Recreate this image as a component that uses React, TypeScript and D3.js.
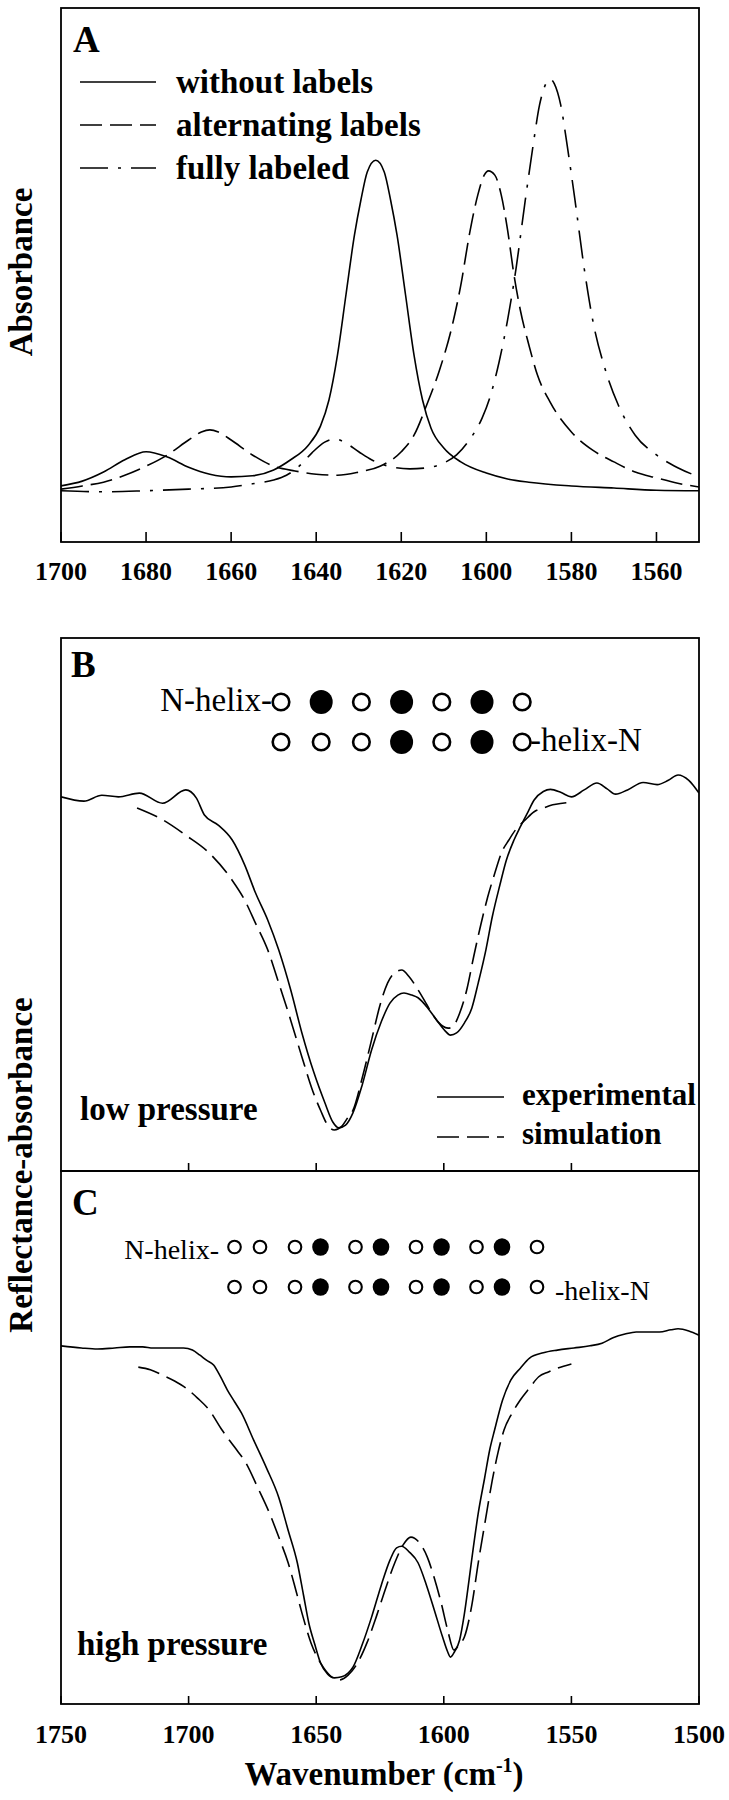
import React from 'react';
import * as d3 from 'd3';

// ---------- Panel A data (wavenumber cm-1, absorbance a.u.) ----------
const aWithout: [number, number][] = [
  [1700, 10.5], [1695, 11.4], [1690, 13.1], [1685, 15.4], [1680, 16.9], [1675, 15.9], [1670, 14.0],
  [1665, 12.7], [1660, 12.2], [1655, 12.4], [1650, 13.5], [1646, 15.4], [1642, 18.0], [1639, 21.7],
  [1637, 26.6], [1635, 35.0], [1633, 46.3], [1631, 57.5], [1629.5, 64.0], [1628, 69.3], [1626, 71.5],
  [1624, 69.3], [1622.5, 64.0], [1621, 57.5], [1619, 46.3], [1617, 35.0], [1615, 26.6], [1613, 21.3],
  [1610, 17.6], [1606, 15.0], [1600, 12.9], [1595, 11.8], [1590, 11.2], [1580, 10.5], [1570, 10.1],
  [1560, 9.7], [1550, 9.6],
];
const aAlternating: [number, number][] = [
  [1700, 9.9], [1695, 10.5], [1690, 11.2], [1685, 12.5], [1680, 14.2], [1675, 16.3], [1670, 19.1],
  [1667, 20.6], [1665, 21.0], [1663, 20.6], [1660, 19.1], [1655, 16.3], [1650, 14.2], [1645, 13.3],
  [1640, 12.7], [1635, 12.5], [1630, 13.1], [1625, 14.2], [1620, 16.9], [1617, 20.0], [1614, 25.7],
  [1611, 32.2], [1608, 40.6], [1606, 48.1], [1604, 57.5], [1602, 65.0], [1600.5, 68.7], [1599.5, 69.5],
  [1598, 68.7], [1596.5, 65.0], [1595, 58.4], [1593.5, 50.0], [1592, 43.4], [1590, 36.9], [1588, 31.3],
  [1585, 26.2], [1580, 20.6], [1575, 17.2], [1570, 15.0], [1565, 13.1], [1560, 12.0], [1555, 11.0],
  [1550, 10.3],
];
const aFully: [number, number][] = [
  [1700, 9.6], [1690, 9.4], [1680, 9.6], [1670, 9.9], [1660, 10.3], [1655, 10.9], [1650, 11.6],
  [1647, 12.5], [1644, 14.2], [1641, 16.7], [1638, 18.7], [1635.5, 19.3], [1633, 18.5], [1630, 16.9],
  [1627, 15.4], [1623, 14.2], [1618, 13.7], [1614, 13.9], [1610, 14.8], [1607, 16.3], [1604, 19.1],
  [1601, 23.2], [1599, 27.5], [1597, 33.7], [1595, 41.6], [1593, 51.3], [1591, 63.1], [1589, 74.3],
  [1587.5, 81.8], [1586, 85.8], [1585, 86.7], [1584, 85.8], [1582.5, 81.8], [1581, 74.3], [1579, 63.1],
  [1577, 51.3], [1575, 41.6], [1572, 32.2], [1569, 25.7], [1565, 20.0], [1560, 16.3], [1555, 13.9],
  [1550, 12.2],
];

// ---------- Panel B data (low pressure) ----------
const bExperimental: [number, number][] = [
  [1750, 70.2], [1741, 69.4], [1734, 70.5], [1727.5, 70.2], [1719.3, 70.9], [1710.2, 69.0], [1701.1, 71.5],
  [1697, 70.0], [1693.8, 66.8], [1688.4, 64.9], [1682.9, 62.1], [1678, 57.4], [1673.8, 52.2], [1669, 47.1],
  [1664.7, 41.5], [1660, 34.0], [1655.6, 25.9], [1651, 18.6], [1646.6, 12.8], [1643.5, 9.2], [1641.1, 8.1],
  [1638.5, 8.6], [1635.6, 10.9], [1632, 16.1], [1628.3, 22.7], [1624.5, 28.0], [1621.1, 31.5], [1618, 33.0],
  [1615.6, 33.4], [1612.5, 33.0], [1610.1, 32.5], [1606, 30.4], [1602.8, 28.3], [1599.5, 26.3], [1597.4, 25.5],
  [1595, 25.9], [1591.9, 27.8], [1589, 30.6], [1586.5, 35.3], [1583.5, 41.5], [1581, 47.7], [1578, 53.7],
  [1575.5, 58.3], [1572.5, 62.1], [1570.1, 64.5], [1567, 67.4], [1564.6, 69.6], [1561, 71.2], [1558.2, 71.6],
  [1554, 71.0], [1550, 70.2], [1545, 71.5], [1540, 72.8], [1536, 71.7], [1532.7, 70.7], [1528, 71.5],
  [1521.9, 72.9], [1516.4, 72.5], [1512, 73.3], [1508.2, 74.3], [1504, 73.3], [1500, 70.9],
];
const bSimulation: [number, number][] = [
  [1720.2, 68.1], [1710.2, 65.9], [1701.1, 63.0], [1692, 59.7], [1683, 54.6], [1678, 50.8], [1673.8, 46.5],
  [1669, 41.5], [1664.7, 35.3], [1660, 28.3], [1655.6, 21.4], [1651.5, 15.2], [1648.3, 11.4], [1645.5, 8.6],
  [1642.9, 7.7], [1640, 8.4], [1637.5, 10.1], [1635.6, 11.4], [1632, 17.4], [1628.3, 24.6], [1625, 31.1],
  [1622, 35.3], [1619, 37.3], [1616.5, 37.7], [1613.5, 36.4], [1610.1, 34.0], [1607, 31.5], [1603.7, 28.9],
  [1600.5, 27.2], [1598.3, 26.8], [1596, 27.4], [1593.8, 29.6], [1591, 34.0], [1588.3, 40.2], [1585.5, 46.2],
  [1582.8, 51.4], [1580, 55.9], [1577.4, 59.7], [1574.5, 62.1], [1571.9, 64.0], [1568, 65.9], [1564.6, 67.4],
  [1561, 68.1], [1557.3, 68.7], [1553.5, 69.0], [1550, 69.2],
];

// ---------- Panel C data (high pressure) ----------
const cExperimental: [number, number][] = [
  [1750, 67.2], [1742, 66.8], [1735.7, 66.6], [1729, 66.8], [1723, 67.0], [1718, 67.0], [1713.9, 66.8],
  [1708, 66.8], [1702, 66.8], [1698.5, 66.4], [1695.7, 65.5], [1693, 64.5], [1690.2, 63.6], [1687.5, 61.4],
  [1684.8, 58.9], [1682, 56.7], [1679.3, 54.6], [1674.5, 49.5], [1669.5, 44.3], [1664.7, 38.8], [1661, 32.6],
  [1657.4, 26.5], [1655, 20.5], [1652.9, 15.2], [1650.5, 11.1], [1648.3, 7.7], [1645.5, 5.6], [1642.9, 4.9],
  [1640, 5.1], [1637.5, 5.8], [1635.6, 6.9], [1632, 11.1], [1628.3, 16.3], [1624.5, 22.3], [1621.1, 27.0],
  [1618.5, 29.3], [1616.5, 29.6], [1613.5, 28.5], [1610.1, 26.5], [1606.8, 22.3], [1603.7, 17.6],
  [1600.5, 12.6], [1598.5, 9.8], [1597.4, 8.8], [1595.8, 9.8], [1593.8, 12.0], [1592, 16.7], [1590.1, 23.3],
  [1588.3, 29.8], [1586.5, 35.8], [1584, 42.4], [1582, 47.7], [1580.1, 51.4], [1577, 57.0], [1573.7, 60.8],
  [1570, 63.0], [1566.4, 64.9], [1561, 65.9], [1555.5, 66.4], [1549, 66.8], [1542.7, 67.2], [1538, 67.7],
  [1533.7, 68.7], [1529, 69.4], [1524.6, 69.8], [1520, 69.8], [1515.5, 69.8], [1511, 70.2], [1508.2, 70.4],
  [1504, 70.0], [1500, 69.2],
];
const cSimulation: [number, number][] = [
  [1719.7, 63.2], [1715, 62.7], [1710.2, 61.7], [1705.5, 60.6], [1701.1, 59.3], [1696.5, 57.4], [1692, 55.2],
  [1686.9, 51.4], [1682, 48.2], [1677.5, 45.2], [1673, 40.7], [1668.3, 35.8], [1664.5, 31.1], [1661, 26.5],
  [1658, 21.4], [1655.6, 17.1], [1652, 11.4], [1648.3, 7.7], [1644.5, 5.3], [1641.1, 4.5], [1637.5, 5.4],
  [1633.8, 7.7], [1630, 11.6], [1626.5, 16.3], [1623, 21.4], [1619.2, 26.5], [1616, 29.8], [1612.9, 31.3],
  [1609.5, 30.2], [1606.5, 27.6], [1603.7, 23.6], [1601, 18.9], [1598.5, 13.9], [1596, 10.1], [1594, 11.1],
  [1591.9, 12.6], [1589, 18.6], [1586.5, 26.5], [1583.7, 34.5], [1581, 42.0], [1578.7, 47.3], [1576.4, 51.4],
  [1573.2, 54.6], [1570.1, 57.0], [1566.4, 59.3], [1562.8, 61.4], [1559, 62.3], [1555.5, 63.0], [1550, 63.8],
];

// ---------- ticks, labels ----------
const ticksA = [1700, 1680, 1660, 1640, 1620, 1600, 1580, 1560];
const ticksBC = [1750, 1700, 1650, 1600, 1550, 1500];
const legendA = ['without labels', 'alternating labels', 'fully labeled'];
const legendB = ['experimental', 'simulation'];
// helix label patterns (1 = labeled / filled circle)
const helixB1 = [0, 1, 0, 1, 0, 1, 0];
const helixB2 = [0, 0, 0, 1, 0, 1, 0];
const helixC1 = [0, 0, 0, 1, 0, 1, 0, 1, 0, 1, 0];
const helixC2 = [0, 0, 0, 1, 0, 1, 0, 1, 0, 1, 0];

const FONT = 'Liberation Serif';
const L = 61, R = 699;
const PA = { top: 8, bottom: 542 };
const PB = { top: 638, bottom: 1171 };
const PC = { top: 1171, bottom: 1704 };
const DASH = '22,8';
const DASHDOT = '28,10,3,10';

export default function App() {
  const xA = d3.scaleLinear().domain([1700, 1550]).range([L, R]);
  const xBC = d3.scaleLinear().domain([1750, 1500]).range([L, R]);
  const yA = d3.scaleLinear().domain([0, 100]).range([PA.bottom, PA.top]);
  const yB = d3.scaleLinear().domain([0, 100]).range([PB.bottom, PB.top]);
  const yC = d3.scaleLinear().domain([0, 100]).range([PC.bottom, PC.top]);

  const mk = (x: d3.ScaleLinear<number, number>, y: d3.ScaleLinear<number, number>) =>
    d3.line<[number, number]>().x(d => x(d[0])).y(d => y(d[1])).curve(d3.curveMonotoneX);
  const lA = mk(xA, yA), lB = mk(xBC, yB), lC = mk(xBC, yC);

  const curve = { fill: 'none', stroke: '#000', strokeWidth: 1.6 } as const;
  const frame = { fill: 'none', stroke: '#000', strokeWidth: 1.8 } as const;

  const clip = (id: string, p: { top: number; bottom: number }) => (
    <clipPath id={id}><rect x={L} y={p.top} width={R - L} height={p.bottom - p.top} /></clipPath>
  );

  const xB1 = (i: number) => 281 + i * 40.2;
  const xC = (i: number) => 234.5 + Math.floor(i / 2) * 60.5 + (i % 2) * 25.5;
  const T = { fontFamily: FONT } as const;

  return (
    <svg width={729} height={1800} style={{ position: 'absolute', left: 0, top: 0, background: '#fff', fontFamily: FONT }}>
      <defs>
        {clip('ca', PA)}
        {clip('cb', PB)}
        {clip('cc', PC)}
      </defs>
      <rect x={0} y={0} width={729} height={1800} fill="#fff" />

      {/* ---------- Panel A ---------- */}
      <g clipPath="url(#ca)">
        <path d={lA(aWithout) || ''} {...curve} />
        <path d={lA(aAlternating) || ''} {...curve} strokeDasharray={DASH} />
        <path d={lA(aFully) || ''} {...curve} strokeDasharray={DASHDOT} />
      </g>
      <rect x={L} y={PA.top} width={R - L} height={PA.bottom - PA.top} {...frame} />
      {ticksA.map(t => (
        <g key={t}>
          <line x1={xA(t)} x2={xA(t)} y1={PA.bottom} y2={PA.bottom - 10} stroke="#000" strokeWidth={1.6} />
          <text style={T} x={xA(t)} y={580} textAnchor="middle" fontSize={26} fontWeight="bold">{t}</text>
        </g>
      ))}
      <text style={T} x={73} y={52} fontSize={37} fontWeight="bold">A</text>
      {legendA.map((s, i) => (
        <g key={s}>
          <line x1={80} x2={156} y1={82 + i * 43} y2={82 + i * 43} stroke="#000" strokeWidth={1.6}
            strokeDasharray={i === 0 ? undefined : i === 1 ? DASH : DASHDOT} />
          <text style={T} x={176} y={93 + i * 43} fontSize={33} fontWeight="bold">{s}</text>
        </g>
      ))}
      <text style={T} transform="translate(32,272) rotate(-90)" textAnchor="middle" fontSize={33} fontWeight="bold">Absorbance</text>

      {/* ---------- Panel B ---------- */}
      <g clipPath="url(#cb)">
        <path d={lB(bExperimental) || ''} {...curve} />
        <path d={lB(bSimulation) || ''} {...curve} strokeDasharray={DASH} />
      </g>
      <rect x={L} y={PB.top} width={R - L} height={PB.bottom - PB.top} {...frame} />
      {ticksBC.slice(1, -1).map(t => (
        <line key={t} x1={xBC(t)} x2={xBC(t)} y1={PB.bottom} y2={PB.bottom - 8} stroke="#000" strokeWidth={1.6} />
      ))}
      <text style={T} x={71} y={677} fontSize={37} fontWeight="bold">B</text>
      <text style={T} x={272} y={711} textAnchor="end" fontSize={33}>N-helix-</text>
      {helixB1.map((f, i) => f
        ? <ellipse key={i} cx={xB1(i)} cy={702} rx={11.5} ry={12} fill="#000" />
        : <circle key={i} cx={xB1(i)} cy={702} r={8.3} fill="none" stroke="#000" strokeWidth={2.6} />)}
      {helixB2.map((f, i) => f
        ? <ellipse key={i} cx={xB1(i)} cy={742} rx={11.5} ry={12} fill="#000" />
        : <circle key={i} cx={xB1(i)} cy={742} r={8.3} fill="none" stroke="#000" strokeWidth={2.6} />)}
      <text style={T} x={530} y={751} fontSize={33}>-helix-N</text>
      <text style={T} x={80} y={1120} fontSize={33} fontWeight="bold">low pressure</text>
      {legendB.map((s, i) => (
        <g key={s}>
          <line x1={437} x2={504} y1={1097 + i * 40} y2={1097 + i * 40} stroke="#000" strokeWidth={1.6}
            strokeDasharray={i === 0 ? undefined : DASH} />
          <text style={T} x={522} y={1105 + i * 39} fontSize={31} fontWeight="bold">{s}</text>
        </g>
      ))}

      {/* ---------- Panel C ---------- */}
      <g clipPath="url(#cc)">
        <path d={lC(cExperimental) || ''} {...curve} />
        <path d={lC(cSimulation) || ''} {...curve} strokeDasharray={DASH} />
      </g>
      <rect x={L} y={PC.top} width={R - L} height={PC.bottom - PC.top} {...frame} />
      {ticksBC.map(t => (
        <g key={t}>
          <line x1={xBC(t)} x2={xBC(t)} y1={PC.bottom} y2={PC.bottom - 8} stroke="#000" strokeWidth={1.6} />
          <text style={T} x={xBC(t)} y={1743} textAnchor="middle" fontSize={26} fontWeight="bold">{t}</text>
        </g>
      ))}
      <text style={T} x={72} y={1215} fontSize={37} fontWeight="bold">C</text>
      <text style={T} x={219} y={1259} textAnchor="end" fontSize={28}>N-helix-</text>
      {helixC1.map((f, i) => f
        ? <ellipse key={i} cx={xC(i)} cy={1247} rx={8.3} ry={8.8} fill="#000" />
        : <circle key={i} cx={xC(i)} cy={1247} r={6.3} fill="none" stroke="#000" strokeWidth={2.1} />)}
      {helixC2.map((f, i) => f
        ? <ellipse key={i} cx={xC(i)} cy={1287} rx={8.3} ry={8.8} fill="#000" />
        : <circle key={i} cx={xC(i)} cy={1287} r={6.3} fill="none" stroke="#000" strokeWidth={2.1} />)}
      <text style={T} x={555} y={1300} fontSize={28}>-helix-N</text>
      <text style={T} x={77} y={1655} fontSize={33} fontWeight="bold">high pressure</text>

      <text style={T} transform="translate(32,1165) rotate(-90)" textAnchor="middle" fontSize={33} fontWeight="bold">Reflectance-absorbance</text>
      <text style={T} x={384} y={1785} textAnchor="middle" fontSize={33} fontWeight="bold">
        Wavenumber (cm<tspan fontSize={20} dy={-13}>-1</tspan><tspan dy={13}>)</tspan>
      </text>
    </svg>
  );
}
